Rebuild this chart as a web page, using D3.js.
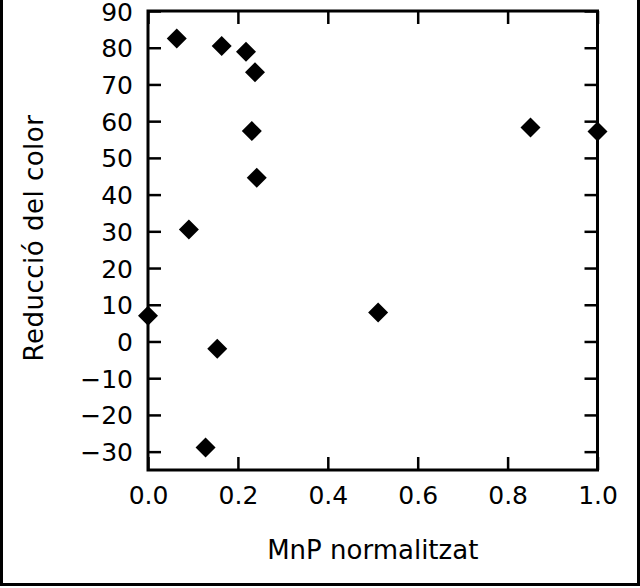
<!DOCTYPE html>
<html>
<head>
<meta charset="utf-8">
<script src="https://cdn.jsdelivr.net/npm/d3@7"></script>
<style>
  html, body { margin: 0; padding: 0; background: #fff; }
  svg { display: block; }
  text { font-family: "DejaVu Sans", sans-serif; fill: #000; }
</style>
</head>
<body>
<svg id="chart" width="640" height="588"></svg>
<script>
// Data
const mnpNormalitzat = [0.0, 0.064, 0.164, 0.218, 0.238, 0.231, 0.242, 0.091, 0.154, 0.128, 0.512, 0.851, 1.0];
const reduccioColor  = [7.0, 82.5, 80.5, 78.9, 73.3, 57.3, 44.6, 30.5, -2.0, -28.9, 7.9, 58.3, 57.2];
const xTicks = [0.0, 0.2, 0.4, 0.6, 0.8, 1.0];
const yTicks = [-30, -20, -10, 0, 10, 20, 30, 40, 50, 60, 70, 80, 90];
const xTitle = "MnP normalitzat";
const yTitle = "Reducció del color";

const svg = d3.select("#chart");
const W = 640, H = 588;
const x = d3.scaleLinear().domain([0, 1]).range([148, 597.5]);
const y = d3.scaleLinear().domain([-35, 90]).range([470, 11]);

// outer scan border
svg.append("path")
  .attr("d", `M1.5,0 V584.5 H638.5 V0`)
  .attr("fill", "none").attr("stroke", "#000").attr("stroke-width", 3);

const tickLen = 13;
const fmtX = d3.format(".1f");
const fmtY = v => (v < 0 ? "\u2212" + Math.abs(v) : String(v));

// bottom axis (inner ticks) with labels
const gB = svg.append("g").attr("transform", `translate(0,${y(-35)})`)
  .call(d3.axisBottom(x).tickValues(xTicks).tickSize(-tickLen).tickPadding(tickLen + 21).tickFormat(fmtX));
// top axis (inner ticks)
const gT = svg.append("g").attr("transform", `translate(0,${y(90)})`)
  .call(d3.axisTop(x).tickValues(xTicks).tickSize(-tickLen).tickFormat(""));
// left axis (inner ticks) with labels
const gL = svg.append("g").attr("transform", `translate(${x(0)},0)`)
  .call(d3.axisLeft(y).tickValues(yTicks).tickSize(-tickLen).tickPadding(tickLen + 2).tickFormat(fmtY));
// right axis (inner ticks)
const gR = svg.append("g").attr("transform", `translate(${x(1)},0)`)
  .call(d3.axisRight(y).tickValues(yTicks).tickSize(-tickLen).tickFormat(""));

[gB, gT, gL, gR].forEach(g => {
  g.select(".domain").remove();
  g.selectAll(".tick line").attr("stroke", "#000").attr("stroke-width", 2.5);
  g.selectAll("text").attr("font-size", 25).attr("font-family", "DejaVu Sans, sans-serif").attr("fill", "#000");
});
gB.selectAll(".tick text").attr("dy", "0");
gL.selectAll(".tick text").attr("dy", "0.36em");

// frame
svg.append("rect")
  .attr("x", x(0)).attr("y", y(90))
  .attr("width", x(1) - x(0)).attr("height", y(-35) - y(90))
  .attr("fill", "none").attr("stroke", "#000").attr("stroke-width", 3);

// points (filled diamonds)
const diamond = d3.symbol().type(d3.symbolSquare).size(200);
svg.append("g").selectAll("path")
  .data(mnpNormalitzat.map((v, i) => [v, reduccioColor[i]]))
  .join("path")
  .attr("d", diamond)
  .attr("transform", d => `translate(${x(d[0])},${y(d[1])}) rotate(45)`)
  .attr("fill", "#000");

// axis titles
svg.append("text")
  .attr("x", (x(0) + x(1)) / 2).attr("y", 559)
  .attr("text-anchor", "middle").attr("font-size", 26)
  .text(xTitle);
svg.append("text")
  .attr("transform", `translate(43,238) rotate(-90)`)
  .attr("text-anchor", "middle").attr("font-size", 26).attr("letter-spacing", 0.5)
  .text(yTitle);
</script>
</body>
</html>
